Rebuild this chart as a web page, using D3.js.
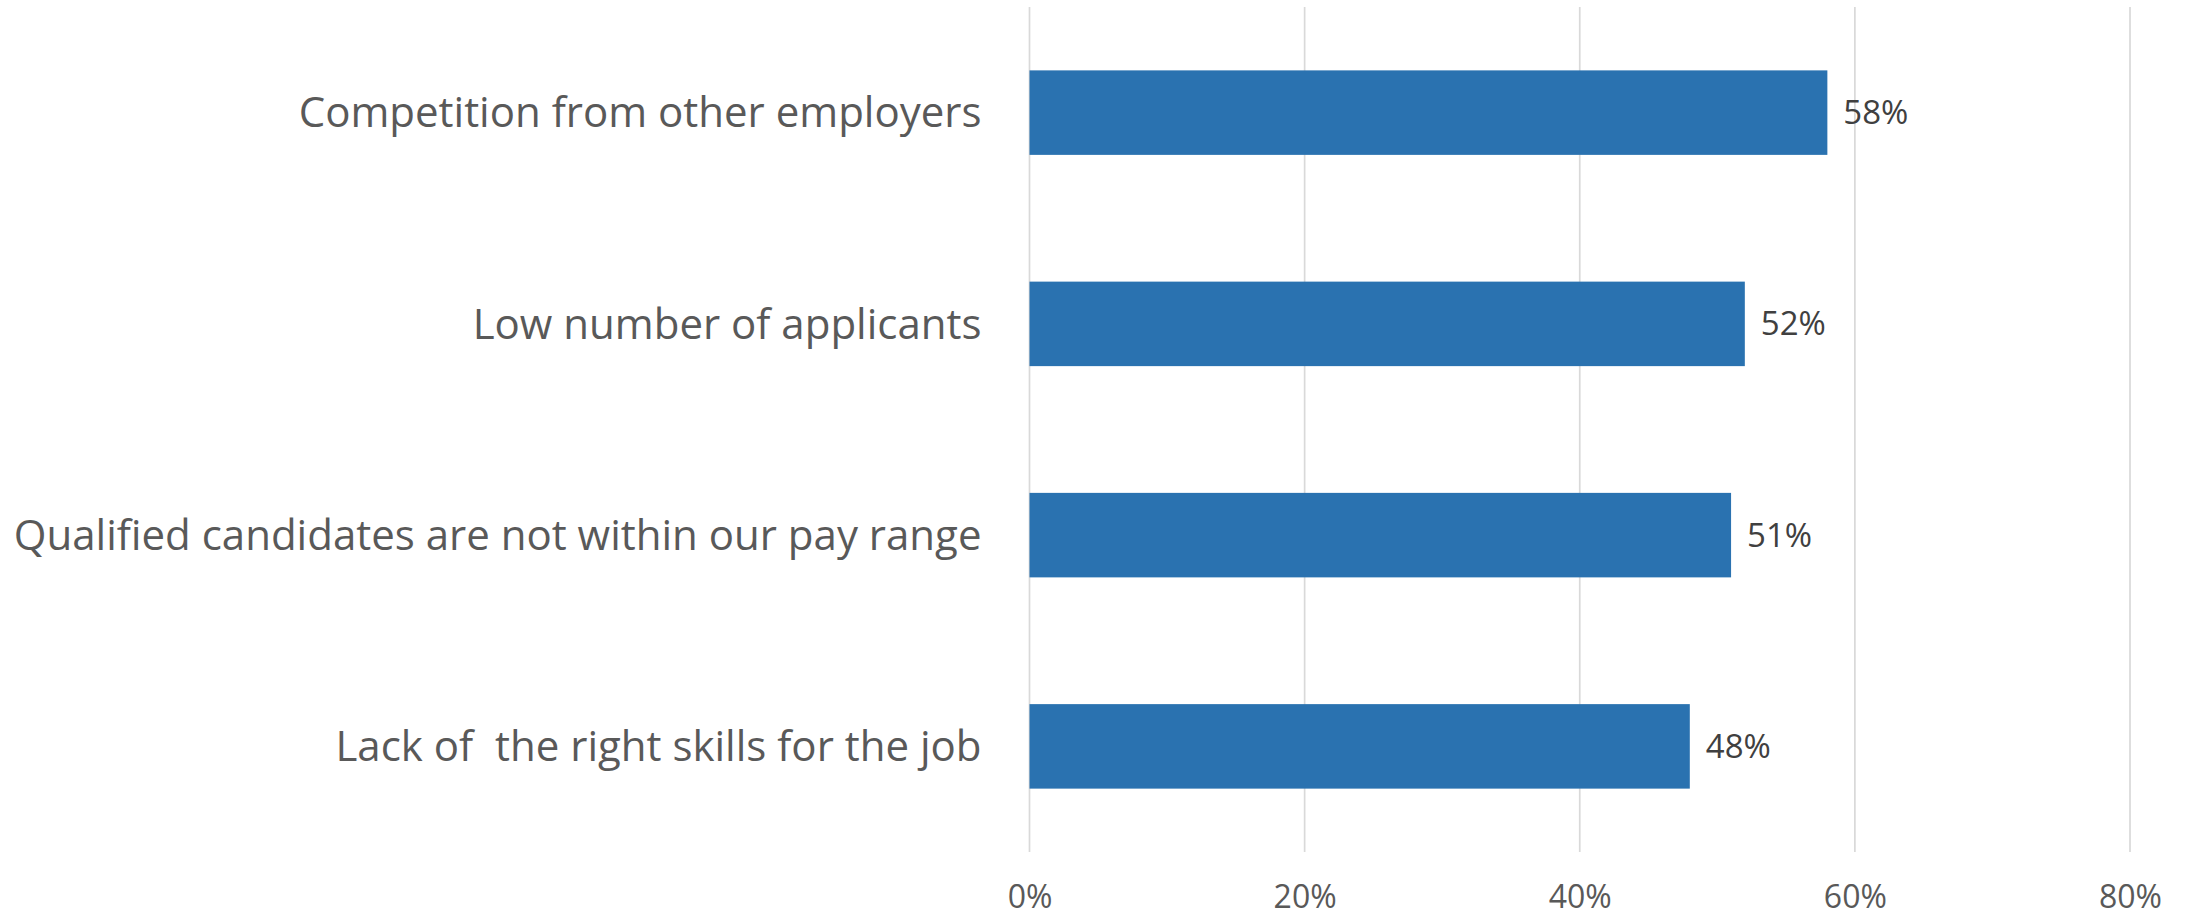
<!DOCTYPE html>
<html>
<head>
<meta charset="utf-8">
<script src="https://cdn.jsdelivr.net/npm/d3@7"></script>
<style>
  html, body { margin: 0; padding: 0; background: #ffffff; }
  svg { display: block; }
  text { white-space: pre; }
</style>
</head>
<body>
<svg id="chart" width="2188" height="917"></svg>
<script>
// Reasons given for hiring difficulty (share of respondents)
const categories = [
  "Competition from other employers",
  "Low number of applicants",
  "Qualified candidates are not within our pay range",
  "Lack of  the right skills for the job"
];
const values = [58, 52, 51, 48];
const valueLabels = ["58%", "52%", "51%", "48%"];
const xTicks = [0, 20, 40, 60, 80];
const xTickLabels = ["0%", "20%", "40%", "60%", "80%"];

const width = 2188, height = 917;
const margin = { top: 7, right: 58, bottom: 65, left: 1029.5 };

const svg = d3.select("#chart");
const font = "'Open Sans', 'Noto Sans', sans-serif";

const x = d3.scaleLinear()
  .domain([0, 80])
  .range([margin.left, width - margin.right]);

const y = d3.scaleBand()
  .domain(categories)
  .range([margin.top, height - margin.bottom])
  .paddingInner(0.6)
  .paddingOuter(0.3);

// vertical gridlines
svg.append("g")
  .selectAll("line")
  .data(xTicks)
  .join("line")
  .attr("x1", d => x(d)).attr("x2", d => x(d))
  .attr("y1", margin.top).attr("y2", height - margin.bottom)
  .attr("stroke", "#d9d9d9")
  .attr("stroke-width", 1.7);

// x axis tick labels
const xAxis = d3.axisBottom(x)
  .tickValues(xTicks)
  .tickFormat((d, i) => xTickLabels[i])
  .tickSize(0)
  .tickPadding(0);

const gx = svg.append("g")
  .attr("transform", `translate(0, ${height - margin.bottom})`)
  .call(xAxis);
gx.select(".domain").remove();
gx.selectAll("text")
  .attr("dy", null)
  .attr("y", 56)
  .attr("font-family", font)
  .attr("font-size", 32)
  .attr("fill", "#595959");

// category labels
const yAxis = d3.axisLeft(y).tickSize(0).tickPadding(0);
const gy = svg.append("g")
  .attr("transform", `translate(${margin.left - 48}, 0)`)
  .call(yAxis);
gy.select(".domain").remove();
gy.selectAll("text")
  .attr("font-family", font)
  .attr("font-size", 42)
  .attr("fill", "#595959")
  .attr("dy", "0.35em");

// bars
svg.append("g")
  .selectAll("rect")
  .data(values)
  .join("rect")
  .attr("x", x(0))
  .attr("y", (d, i) => y(categories[i]))
  .attr("width", d => x(d) - x(0))
  .attr("height", y.bandwidth())
  .attr("fill", "#2a72b0");

// value labels
svg.append("g")
  .selectAll("text")
  .data(values)
  .join("text")
  .attr("x", d => x(d) + 16)
  .attr("y", (d, i) => y(categories[i]) + y.bandwidth() / 2)
  .attr("dy", "0.35em")
  .attr("font-family", font)
  .attr("font-size", 33)
  .attr("fill", "#404040")
  .text((d, i) => valueLabels[i]);
</script>
</body>
</html>
